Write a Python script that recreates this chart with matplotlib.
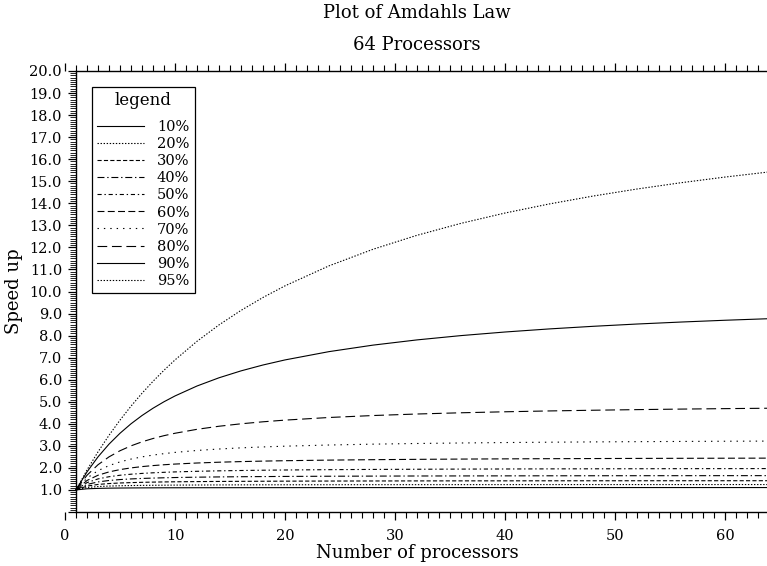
import matplotlib
matplotlib.use("Agg")
import matplotlib.pyplot as plt
from matplotlib.ticker import MultipleLocator, FuncFormatter

plt.rcParams['font.family'] = ['DejaVu Serif']
plt.rcParams['lines.scale_dashes'] = False

n_proc = [1, 2, 3, 4, 5, 6, 7, 8, 9, 10, 12, 14, 16, 18, 20, 24, 28, 32, 36, 40, 44, 48, 52, 56, 60, 64]

labels = ['10%', '20%', '30%', '40%', '50%', '60%', '70%', '80%', '90%', '95%']

s10 = [1.00, 1.053, 1.071, 1.081, 1.087, 1.091, 1.094, 1.096, 1.098, 1.099, 1.101, 1.102, 1.103, 1.104, 1.105, 1.106, 1.107, 1.107, 1.108, 1.108, 1.108, 1.109, 1.109, 1.109, 1.109, 1.109]
s20 = [1.00, 1.111, 1.154, 1.176, 1.190, 1.200, 1.207, 1.212, 1.216, 1.220, 1.224, 1.228, 1.231, 1.233, 1.235, 1.237, 1.239, 1.240, 1.241, 1.242, 1.243, 1.244, 1.244, 1.244, 1.245, 1.245]
s30 = [1.00, 1.176, 1.250, 1.290, 1.316, 1.333, 1.346, 1.356, 1.364, 1.370, 1.379, 1.386, 1.391, 1.395, 1.399, 1.404, 1.407, 1.410, 1.412, 1.413, 1.415, 1.416, 1.417, 1.418, 1.418, 1.419]
s40 = [1.00, 1.250, 1.364, 1.429, 1.471, 1.500, 1.522, 1.538, 1.552, 1.563, 1.579, 1.591, 1.600, 1.607, 1.613, 1.622, 1.628, 1.633, 1.636, 1.639, 1.642, 1.644, 1.646, 1.647, 1.648, 1.649]
s50 = [1.00, 1.333, 1.500, 1.600, 1.667, 1.714, 1.750, 1.778, 1.800, 1.818, 1.846, 1.867, 1.882, 1.895, 1.905, 1.920, 1.931, 1.939, 1.946, 1.951, 1.956, 1.959, 1.962, 1.965, 1.967, 1.969]
s60 = [1.00, 1.429, 1.667, 1.818, 1.923, 2.000, 2.059, 2.105, 2.143, 2.174, 2.222, 2.258, 2.286, 2.308, 2.326, 2.353, 2.373, 2.388, 2.400, 2.410, 2.418, 2.424, 2.430, 2.435, 2.439, 2.443]
s70 = [1.00, 1.538, 1.875, 2.105, 2.273, 2.400, 2.500, 2.581, 2.647, 2.703, 2.791, 2.857, 2.909, 2.951, 2.985, 3.038, 3.077, 3.107, 3.130, 3.150, 3.165, 3.179, 3.190, 3.200, 3.209, 3.216]
s80 = [1.00, 1.667, 2.143, 2.500, 2.778, 3.000, 3.182, 3.333, 3.462, 3.571, 3.750, 3.889, 4.000, 4.091, 4.167, 4.286, 4.375, 4.444, 4.500, 4.545, 4.583, 4.615, 4.643, 4.667, 4.688, 4.706]
s90 = [1.00, 1.818, 2.500, 3.077, 3.571, 4.000, 4.375, 4.706, 5.000, 5.263, 5.714, 6.087, 6.400, 6.667, 6.897, 7.273, 7.568, 7.805, 8.000, 8.163, 8.302, 8.421, 8.525, 8.615, 8.696, 8.767]
s95 = [1.00, 1.905, 2.727, 3.478, 4.167, 4.800, 5.385, 5.926, 6.429, 6.897, 7.742, 8.485, 9.143, 9.730, 10.256, 11.163, 11.915, 12.549, 13.091, 13.559, 13.968, 14.328, 14.648, 14.933, 15.190, 15.422]

series = [s10, s20, s30, s40, s50, s60, s70, s80, s90, s95]
styles = ['-', (0, (1, 1.2)), (0, (3, 1.6)), (0, (5, 2, 1, 2)), (0, (3, 2, 1, 2)),
          (0, (5, 2.4)), (0, (1, 3.6)), (0, (7, 3.4)), '-', (0, (1, 1.2))]

W, H = 767, 566
fig = plt.figure(figsize=(W / 100, H / 100), dpi=100)
ax = fig.add_axes([65 / W, (H - 512) / H, 704 / W, 441 / H])

for s, ls, lab in zip(series, styles, labels):
    ax.plot(n_proc, s, color='black', lw=0.8, linestyle=ls, label=lab)

ax.set_xlim(0, 64)
ax.set_ylim(0, 20)

ax.spines['right'].set_visible(False)
ax.spines['left'].set_position(('data', 1))
ax.spines['bottom'].set_bounds(1, 64)
ax.spines['top'].set_bounds(1, 64)
for sp in ['left', 'bottom', 'top']:
    ax.spines[sp].set_linewidth(1.0)

ax.xaxis.set_major_locator(MultipleLocator(10))
ax.xaxis.set_minor_locator(MultipleLocator(1))
ax.yaxis.set_major_locator(MultipleLocator(1))
ax.yaxis.set_minor_locator(MultipleLocator(0.1))
ax.yaxis.set_major_formatter(FuncFormatter(lambda v, p: '' if abs(v) < 1e-9 else f'{v:.1f}'))

ax.tick_params(axis='x', which='both', direction='out', top=True, bottom=True, labeltop=False)
ax.tick_params(axis='x', which='major', length=6, width=0.9, labelsize=10.5, pad=6)
ax.tick_params(axis='x', which='minor', length=4.2, width=0.8)
ax.tick_params(axis='y', which='both', direction='out', right=False)
ax.tick_params(axis='y', which='major', length=6, width=0.9, labelsize=10.5, pad=4)
ax.tick_params(axis='y', which='minor', length=4.2, width=0.6)

ax.set_xlabel('Number of processors', fontsize=13, va='center')
ax.xaxis.set_label_coords(0.5, (512 - 553) / 441)
ax.set_ylabel('Speed up', fontsize=13, va='center')
ax.yaxis.set_label_coords((14 - 65) / 704, 0.5)

cx = (65 + 769) / 2 / W
fig.text(cx, 1 - 13 / H, 'Plot of Amdahls Law', ha='center', va='center', fontsize=13)
fig.text(cx, 1 - 45 / H, '64 Processors', ha='center', va='center', fontsize=13)

leg = ax.legend(loc='upper left', bbox_to_anchor=((92 - 65) / 704, (512 - 87) / 441),
                borderaxespad=0, title='legend', fontsize=10.5, title_fontsize=12,
                fancybox=False, frameon=True, edgecolor='black', framealpha=1,
                handlelength=3.2, handletextpad=0.9, labelspacing=0.21, borderpad=0.35)
leg.get_frame().set_linewidth(0.9)
leg._legend_box.sep = 8

fig.savefig('out.png', dpi=100)
